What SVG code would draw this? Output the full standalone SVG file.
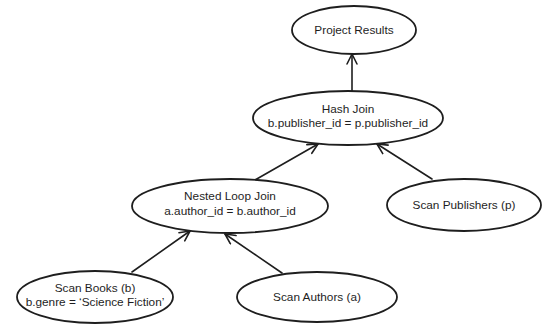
<svg xmlns="http://www.w3.org/2000/svg" width="544" height="324" viewBox="0 0 544 324">
  <style>
    .node ellipse { fill: #ffffff; stroke: #1e1e1e; stroke-width: 1.8; }
    .node text { font-family: "Liberation Sans", "DejaVu Sans", sans-serif; font-size: 11.8px; fill: #1e1e1e; text-anchor: middle; }
    .edge { fill: none; stroke: #1e1e1e; stroke-width: 1.6; stroke-linecap: round; marker-end: url(#head); }
  </style>
  <defs>
    <marker id="head" viewBox="0 0 12 12" refX="11" refY="6" markerWidth="12" markerHeight="12" markerUnits="userSpaceOnUse" orient="auto">
      <path d="M1,1 L11,6 L1,11" fill="none" stroke="#1e1e1e" stroke-width="1.6" stroke-linecap="round" stroke-linejoin="round"/>
    </marker>
  </defs>
  <rect width="544" height="324" fill="#ffffff"/>

  <g id="connectors">
    <path class="edge" d="M352,92 L352,54"/>
    <path class="edge" d="M255,180 L318,144"/>
    <path class="edge" d="M432,179 L377,144"/>
    <path class="edge" d="M132,272 L190,231"/>
    <path class="edge" d="M282,273 L225,234"/>
  </g>

  <g id="project-results" class="node">
    <ellipse cx="354" cy="30" rx="62" ry="24"/>
    <text x="354" y="34">Project Results</text>
  </g>

  <g id="hash-join" class="node">
    <ellipse cx="348" cy="118" rx="95" ry="27"/>
    <text x="348" y="113">Hash Join</text>
    <text x="348" y="127">b.publisher_id = p.publisher_id</text>
  </g>

  <g id="nested-loop-join" class="node">
    <ellipse cx="230" cy="206" rx="98" ry="27"/>
    <text x="230" y="200">Nested Loop Join</text>
    <text x="230" y="215">a.author_id = b.author_id</text>
  </g>

  <g id="scan-publishers" class="node">
    <ellipse cx="464" cy="205" rx="77" ry="26"/>
    <text x="464" y="209">Scan Publishers (p)</text>
  </g>

  <g id="scan-books" class="node">
    <ellipse cx="95" cy="297" rx="78" ry="26"/>
    <text x="95" y="292">Scan Books (b)</text>
    <text x="95" y="306">b.genre = ‘Science Fiction’</text>
  </g>

  <g id="scan-authors" class="node">
    <ellipse cx="317" cy="297" rx="80" ry="25"/>
    <text x="317" y="301">Scan Authors (a)</text>
  </g>
</svg>
